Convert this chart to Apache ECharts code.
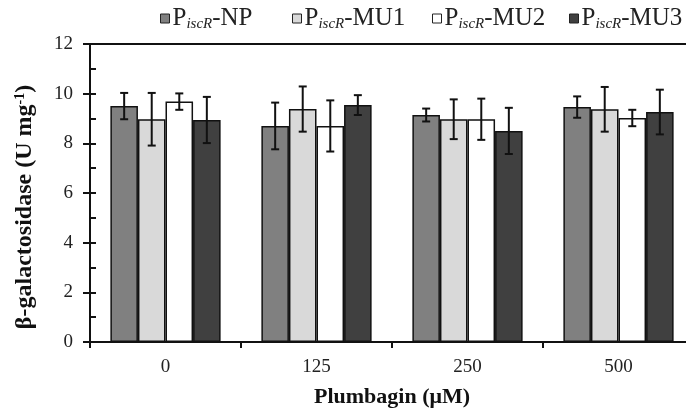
<!DOCTYPE html>
<html>
<head>
<meta charset="utf-8">
<script src="https://cdn.jsdelivr.net/npm/echarts@6/dist/echarts.min.js"></script>
<style>
  html, body { margin: 0; padding: 0; background: #fff; }
  #chart { width: 686px; height: 408px; }
</style>
</head>
<body>
<div id="chart"></div>
<script>
// plumbagin concentrations (µM)
const categories = ['0', '125', '250', '500'];

const seriesNames = ['NP', 'MU1', 'MU2', 'MU3'];
const seriesColors = ['#808080', '#d9d9d9', '#ffffff', '#404040'];

// mean beta-galactosidase activity (U mg-1)
const npMean  = [9.50, 8.70, 9.14, 9.46];
const mu1Mean = [8.97, 9.38, 8.97, 9.37];
const mu2Mean = [9.68, 8.70, 8.97, 9.02];
const mu3Mean = [8.94, 9.54, 8.50, 9.26];

// error bar half-widths
const npErr  = [0.53, 0.94, 0.26, 0.43];
const mu1Err = [1.06, 0.91, 0.80, 0.90];
const mu2Err = [0.33, 1.03, 0.83, 0.33];
const mu3Err = [0.93, 0.40, 0.93, 0.90];

const means = [npMean, mu1Mean, mu2Mean, mu3Mean];
const errs = [npErr, mu1Err, mu2Err, mu3Err];

// left edge of each legend entry
const legendLeft = [155, 287, 427, 564];

const font = '"Liberation Serif", "Times New Roman", serif';
const catGap = 0.27;

const chart = echarts.init(document.getElementById('chart'));

const barSeries = seriesNames.map((n, i) => ({
  name: n,
  type: 'bar',
  data: means[i],
  barGap: '0%',
  barCategoryGap: (catGap * 100) + '%',
  itemStyle: { color: seriesColors[i], borderColor: '#111', borderWidth: 1.5 },
  z: 2
}));

const errSeries = seriesNames.map((n, i) => ({
  type: 'custom',
  name: n + '-err',
  data: means[i].map((m, k) => [k, m, errs[i][k]]),
  z: 5,
  renderItem: function (params, api) {
    const k = api.value(0);
    const m = api.value(1);
    const e = api.value(2);
    const band = api.size([1, 0])[0];
    const bw = band * (1 - catGap) / 4;
    const cx = api.coord([k, m])[0] + (i - 1.5) * bw;
    const yTop = api.coord([k, m + e])[1];
    const yBot = api.coord([k, m - e])[1];
    const cap = 4;
    const st = { stroke: '#111', lineWidth: 2 };
    return {
      type: 'group',
      children: [
        { type: 'line', shape: { x1: cx, y1: yTop, x2: cx, y2: yBot }, style: st },
        { type: 'line', shape: { x1: cx - cap, y1: yTop, x2: cx + cap, y2: yTop }, style: st },
        { type: 'line', shape: { x1: cx - cap, y1: yBot, x2: cx + cap, y2: yBot }, style: st }
      ]
    };
  }
}));

const legends = seriesNames.map((n, i) => ({
  data: [n],
  top: 1,
  left: legendLeft[i],
  itemWidth: 9,
  itemHeight: 9,
  icon: 'rect',
  itemStyle: { borderColor: '#222', borderWidth: 1 },
  formatter: s => '{p|P}{s|iscR}{p|-' + s + '}',
  textStyle: {
    padding: [0, 0, 0, -2],
    rich: {
      p: { fontFamily: font, fontSize: 25, color: '#222' },
      s: { fontFamily: font, fontSize: 15, fontStyle: 'italic', color: '#222', verticalAlign: 'bottom', padding: [12, 0, 0, 0] }
    }
  }
}));

chart.setOption({
  backgroundColor: '#fff',
  animation: false,
  textStyle: { fontFamily: font },
  legend: legends,
  grid: { left: 90, top: 44, width: 604, height: 298, outerBoundsMode: 'none' },
  xAxis: [{
    type: 'category',
    data: categories,
    name: 'Plumbagin (μM)',
    nameLocation: 'middle',
    nameGap: 44,
    nameTextStyle: { fontFamily: font, fontSize: 22, fontWeight: 'bold', color: '#111' },
    axisLine: { onZero: false, lineStyle: { color: '#111', width: 2 } },
    axisTick: { show: true, inside: false, length: 6, lineStyle: { color: '#111', width: 2 } },
    axisLabel: { fontFamily: font, fontSize: 19, color: '#222', margin: 16 }
  }, {
    type: 'category',
    data: categories,
    position: 'top',
    axisLine: { onZero: false, lineStyle: { color: '#111', width: 2 } },
    axisTick: { show: false },
    axisLabel: { show: false }
  }],
  yAxis: [{
    type: 'value',
    min: 0,
    max: 12,
    interval: 2,
    name: '{a|β-galactosidase (U mg}{s|-1}{a|)}',
    nameLocation: 'middle',
    nameGap: 53,
    nameRotate: 90,
    nameTextStyle: {
      padding: [0, 28, 0, 0],
      rich: {
        a: { fontFamily: font, fontSize: 24, fontWeight: 'bold', color: '#111' },
        s: { fontFamily: font, fontSize: 14, fontWeight: 'bold', color: '#111', verticalAlign: 'top', padding: [0, 0, 10, 0] }
      }
    },
    axisLine: { show: true, lineStyle: { color: '#111', width: 2 } },
    axisTick: { show: true, inside: false, length: 7, lineStyle: { color: '#111', width: 2 } },
    axisLabel: { fontFamily: font, fontSize: 19, color: '#222', margin: 17 },
    splitLine: { show: false }
  }, {
    type: 'value',
    min: 0,
    max: 12,
    interval: 1,
    position: 'left',
    axisLine: { show: false },
    axisTick: { show: true, inside: true, length: 6, lineStyle: { color: '#111', width: 2 } },
    axisLabel: { show: false },
    splitLine: { show: false }
  }],
  series: barSeries.concat(errSeries)
});
</script>
</body>
</html>
